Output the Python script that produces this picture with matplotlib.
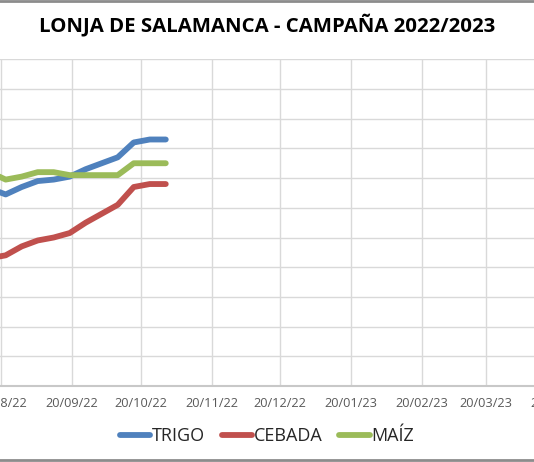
import matplotlib
matplotlib.use("Agg")
import matplotlib.pyplot as plt
import matplotlib.dates as mdates
from matplotlib.lines import Line2D
import numpy as np
import datetime as dt

# ---- data ----
dates = ["2022-08-15", "2022-08-22", "2022-08-29", "2022-09-05", "2022-09-12",
         "2022-09-19", "2022-09-26", "2022-10-03", "2022-10-10", "2022-10-17",
         "2022-10-24", "2022-10-31"]
trigo = [313, 309, 314, 318, 319, 321, 326, 330, 334, 344, 346, 346]
cebada = [266, 268, 274, 278, 280, 283, 290, 296, 302, 314, 316, 316]
maiz = [324, 319, 321, 324, 324, 322, 322, 322, 322, 330, 330, 330]
series_names = ["TRIGO", "CEBADA", "MAÍZ"]
colors = ["#4F81BD", "#C0504D", "#9BBB59"]
title = "LONJA DE SALAMANCA - CAMPAÑA 2022/2023"
y_min, y_max, y_step = 180, 400, 20
x_start, x_end = dt.date(2022, 7, 20), dt.date(2023, 5, 20)

x = [dt.datetime.strptime(d, "%Y-%m-%d") for d in dates]

W, H = 534, 462
fig = plt.figure(figsize=(W / 100, H / 100), dpi=100)

# layout: axes wider than figure (chart is cropped on left/right)
px_per_day = 2.287
anchor_px = 1.1  # position of 20/08/22
anchor = dt.date(2022, 8, 20)
left_px = anchor_px - (anchor - x_start).days * px_per_day
right_px = anchor_px + (x_end - anchor).days * px_per_day
top_px, bottom_px = 59.3, 386
ax = fig.add_axes([left_px / W, 1 - bottom_px / H,
                   (right_px - left_px) / W, (bottom_px - top_px) / H])

for vals, name, c in zip([trigo, cebada, maiz], series_names, colors):
    ax.plot(x, vals, color=c, lw=4.2, solid_capstyle="round",
            solid_joinstyle="round", label=name, zorder=3)

ax.set_xlim(dt.datetime.combine(x_start, dt.time()), dt.datetime.combine(x_end, dt.time()))
ax.set_ylim(y_min, y_max)
ax.set_yticks(np.arange(y_min, y_max + 1, y_step))
ax.set_yticklabels([])
ax.xaxis.set_major_locator(mdates.MonthLocator(bymonthday=20))
ax.xaxis.set_major_formatter(mdates.DateFormatter("%d/%m/%y"))
ax.tick_params(axis="both", length=0)
ax.tick_params(axis="x", pad=8, labelsize=9.2, labelcolor="#595959")
for lab in ax.get_xticklabels():
    lab.set_fontfamily("Open Sans")
ax.grid(True, color="#d9d9d9", lw=1.0)
ax.set_axisbelow(True)
for s in ["top", "right", "left"]:
    ax.spines[s].set_visible(False)
ax.spines["bottom"].set_color("#c8c8c8")
ax.spines["bottom"].set_linewidth(1.5)

fig.text(0.5, 1 - 25 / H, title, ha="center", va="center",
         fontsize=14.7, fontweight="bold", fontfamily="Open Sans", color="#000000")

leg = fig.legend(loc="center", bbox_to_anchor=(0.5, 1 - 436 / H), ncol=3,
                 frameon=False, handlelength=1.7, handletextpad=0.1,
                 columnspacing=0.9,
                 prop={"family": "Open Sans", "size": 13})
for t in leg.get_texts():
    t.set_color("#262626")

# chart border (top and bottom visible)
fig.add_artist(Line2D([0, 1], [1 - 1 / H, 1 - 1 / H], transform=fig.transFigure,
                      color="#8c8c8c", lw=2))
fig.add_artist(Line2D([0, 1], [1 - 460 / H, 1 - 460 / H], transform=fig.transFigure,
                      color="#8c8c8c", lw=2))

fig.savefig("out.png", dpi=100)
